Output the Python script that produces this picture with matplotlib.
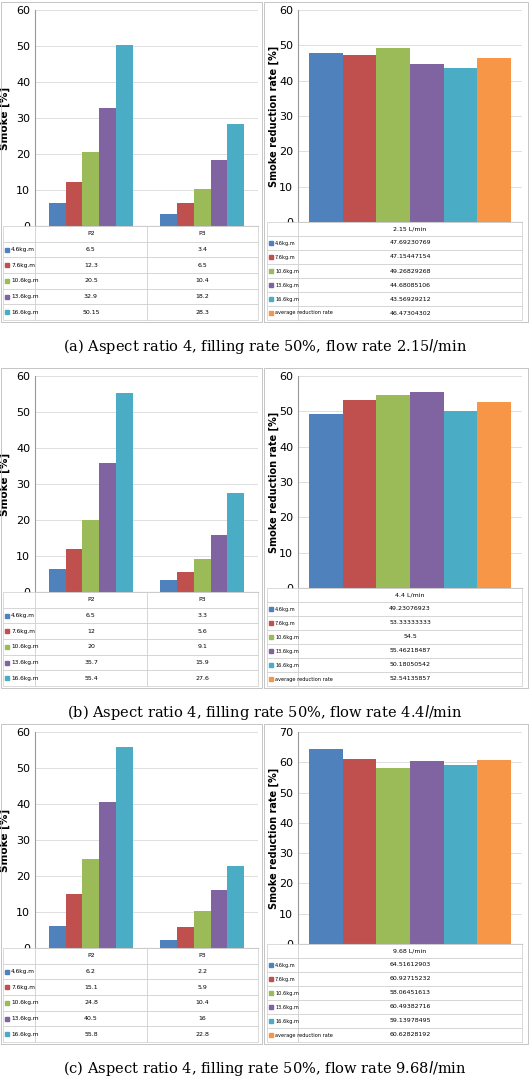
import matplotlib
matplotlib.use("Agg")
import matplotlib.pyplot as plt
from matplotlib.patches import Rectangle

series = ["4.6kg.m", "7.6kg.m", "10.6kg.m", "13.6kg.m", "16.6kg.m"]
avg_label = "average reduction rate"
positions = ["P2", "P3"]
colors = ["#4F81BD", "#C0504D", "#9BBB59", "#8064A2", "#4BACC6", "#F79646"]

flows = ["2.15 L/min", "4.4 L/min", "9.68 L/min"]
p2_a = [6.5, 12.3, 20.5, 32.9, 50.15]
p3_a = [3.4, 6.5, 10.4, 18.2, 28.3]
red_a = ["47.69230769", "47.15447154", "49.26829268", "44.68085106", "43.56929212", "46.47304302"]
p2_b = [6.5, 12, 20, 35.7, 55.4]
p3_b = [3.3, 5.6, 9.1, 15.9, 27.6]
red_b = ["49.23076923", "53.33333333", "54.5", "55.46218487", "50.18050542", "52.54135857"]
p2_c = [6.2, 15.1, 24.8, 40.5, 55.8]
p3_c = [2.2, 5.9, 10.4, 16, 22.8]
red_c = ["64.51612903", "60.92715232", "58.06451613", "60.49382716", "59.13978495", "60.62828192"]
captions = ["(a) Aspect ratio 4, filling rate 50%, flow rate 2.15$\\it{l}$/min",
            "(b) Aspect ratio 4, filling rate 50%, flow rate 4.4$\\it{l}$/min",
            "(c) Aspect ratio 4, filling rate 50%, flow rate 9.68$\\it{l}$/min"]
right_max = [60, 60, 70]

W, H = 530, 1088
fig = plt.figure(figsize=(W/100, H/100), dpi=100)

def ax_px(x, y, w, h):
    return fig.add_axes([x/W, 1-(y+h)/H, w/W, h/H])

def fmt(v):
    return ("%g" % v)

def style(ax):
    ax.set_xticks([])
    ax.tick_params(axis='y', labelsize=8, length=0)
    ax.grid(axis='y', color="#d9d9d9", lw=0.6)
    ax.set_axisbelow(True)
    for s in ["top", "right"]:
        ax.spines[s].set_visible(False)
    ax.spines["left"].set_color("#999999"); ax.spines["bottom"].set_color("#999999")

def panel(off, p2, p3, red, flow, cap, rmax):
    fig.add_artist(Rectangle((1/W, 1-(off+322)/H), 261/W, 320/H, fill=False, ec="#bbbbbb", lw=0.6, transform=fig.transFigure))
    fig.add_artist(Rectangle((264/W, 1-(off+322)/H), 264/W, 320/H, fill=False, ec="#bbbbbb", lw=0.6, transform=fig.transFigure))
    ax = ax_px(35, off+10, 223, 216)
    bw = 0.15
    for i in range(5):
        ax.bar([j + (i-2)*bw for j in range(2)], [p2[i], p3[i]], bw, color=colors[i])
    ax.set_xlim(-0.5, 1.5)
    ax.set_ylim(0, 60)
    ax.set_yticks(range(0, 61, 10))
    style(ax)
    ax.set_ylabel("Smoke [%]", fontsize=7.5, fontweight="bold")
    ax.yaxis.set_label_coords(-0.11, 0.5)
    tax = ax_px(3, off+226, 255, 94)
    tax.axis("off")
    rows = [["", positions[0], positions[1]]] + [["", fmt(p2[i]), fmt(p3[i])] for i in range(5)]
    t = tax.table(cellText=rows, colWidths=[32/255, 112/255, 111/255], bbox=[0, 0, 1, 1], cellLoc="center")
    t.auto_set_font_size(False); t.set_fontsize(4.5)
    for cell in t.get_celld().values():
        cell.set_edgecolor("#cccccc"); cell.set_linewidth(0.5)
    for i in range(5):
        yc = off + 226 + 94*(i+1.5)/6
        fig.add_artist(Rectangle((5/W, 1-(yc+2)/H), 4/W, 4/H, color=colors[i], transform=fig.transFigure))
        fig.text(11/W, 1-yc/H, series[i], fontsize=4.2, va="center", ha="left")
    ax2 = ax_px(298, off+10, 224, 212)
    rb = 0.15
    for i in range(6):
        ax2.bar([(i-2.5)*rb], [float(red[i])], rb, color=colors[i])
    ax2.set_xlim(-0.5, 0.5)
    ax2.set_ylim(0, rmax)
    ax2.set_yticks(range(0, rmax+1, 10))
    style(ax2)
    ax2.set_ylabel("Smoke reduction rate [%]", fontsize=7, fontweight="bold")
    ax2.yaxis.set_label_coords(-0.085, 0.5)
    tax2 = ax_px(267, off+222, 255, 98)
    tax2.axis("off")
    labs = series + [avg_label]
    rows2 = [["", flow]] + [["", red[i]] for i in range(6)]
    t2 = tax2.table(cellText=rows2, colWidths=[31/255, 224/255], bbox=[0, 0, 1, 1], cellLoc="center")
    t2.auto_set_font_size(False); t2.set_fontsize(4.5)
    for cell in t2.get_celld().values():
        cell.set_edgecolor("#cccccc"); cell.set_linewidth(0.5)
    for i in range(6):
        yc = off + 222 + 98*(i+1.5)/7
        fig.add_artist(Rectangle((269/W, 1-(yc+2)/H), 4/W, 4/H, color=colors[i], transform=fig.transFigure))
        fig.text(275/W, 1-yc/H, labs[i], fontsize=3.6, va="center", ha="left")
    fig.text(0.5, 1-(off+346)/H, cap, ha="center", va="center", fontsize=10.5, family="DejaVu Serif")

offs = [0, 366, 722]
data = [(p2_a, p3_a, red_a), (p2_b, p3_b, red_b), (p2_c, p3_c, red_c)]
for k in range(3):
    panel(offs[k], *data[k], flows[k], captions[k], right_max[k])

fig.savefig("out.png", dpi=100)
